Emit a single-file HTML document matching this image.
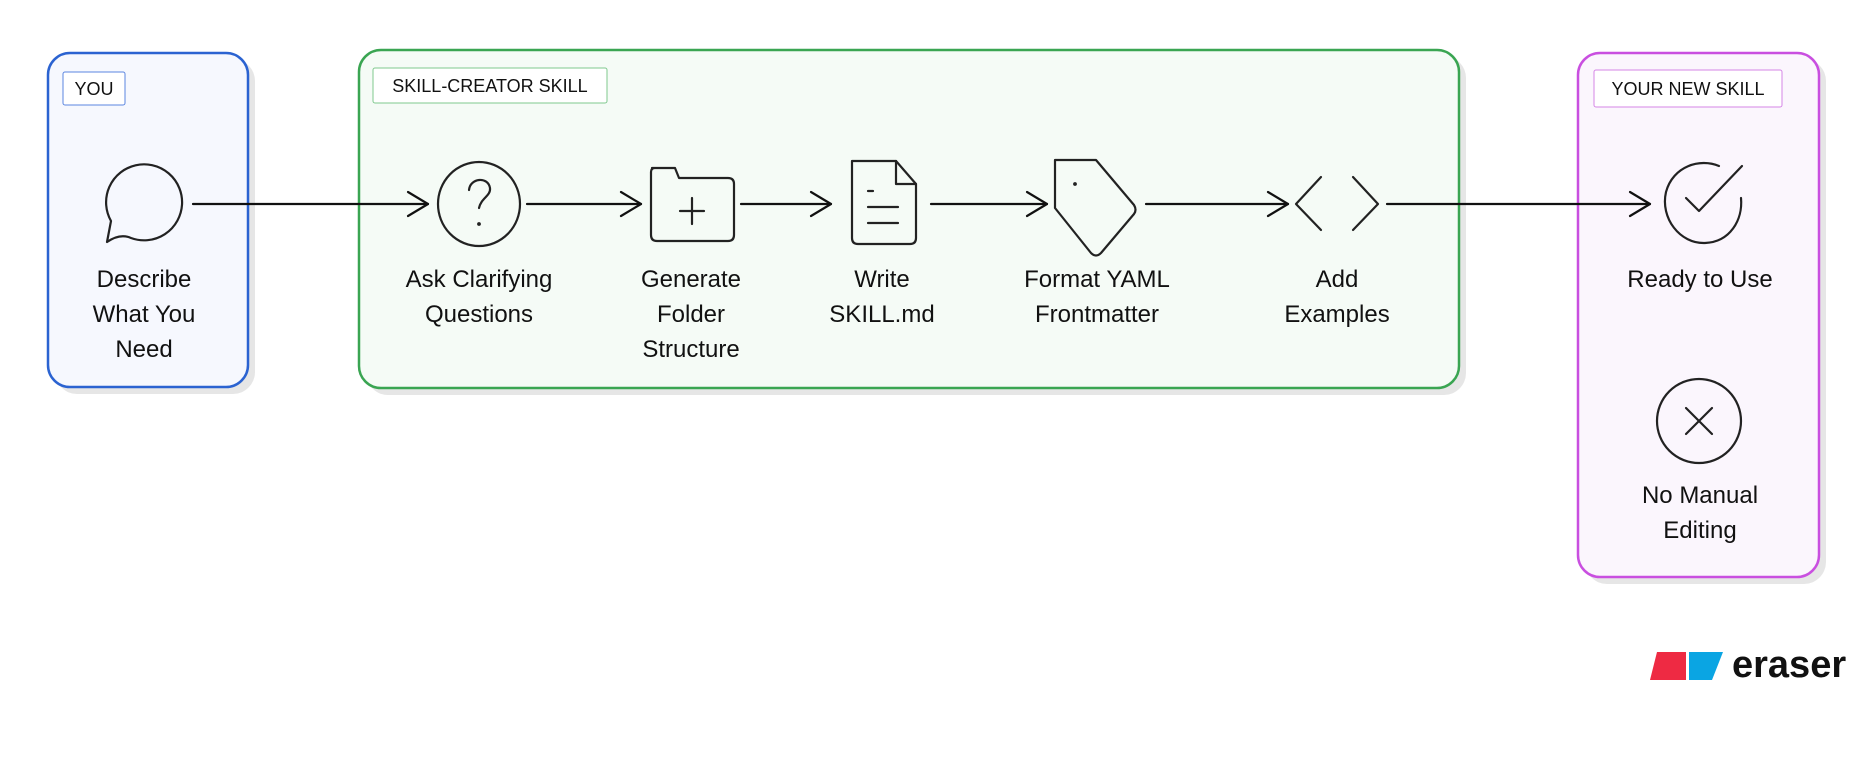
<!DOCTYPE html>
<html><head><meta charset="utf-8"><style>
html,body{margin:0;padding:0;background:#fff;width:1871px;height:768px;overflow:hidden}
svg{display:block}
text{font-family:"Liberation Sans",sans-serif;fill:#111}
</style></head><body>
<svg width="1871" height="768" viewBox="0 0 1871 768" xmlns="http://www.w3.org/2000/svg">
<!-- shadows -->
<rect x="55" y="59" width="200" height="335" rx="22" fill="#e6e6e6"/>
<rect x="366" y="56" width="1100" height="339" rx="22" fill="#e6e6e6"/>
<rect x="1585" y="59" width="241" height="525" rx="22" fill="#e6e6e6"/>
<!-- boxes -->
<rect x="48" y="53" width="200" height="334" rx="22" fill="#f6f8fe" stroke="#2b63d1" stroke-width="2.5"/>
<rect x="359" y="50" width="1100" height="338" rx="22" fill="#f5fbf6" stroke="#3aa552" stroke-width="2.5"/>
<rect x="1578" y="53" width="241" height="524" rx="22" fill="#fbf6fd" stroke="#c94fe0" stroke-width="2.5"/>
<!-- labels -->
<rect x="63" y="72" width="62" height="33" rx="2" fill="#fff" stroke="#5b86e0" stroke-width="1"/>
<text x="94" y="95" font-size="18" text-anchor="middle" fill="#333">YOU</text>
<rect x="373" y="68" width="234" height="35" rx="2" fill="#fff" stroke="#7fc88e" stroke-width="1"/>
<text x="490" y="92" font-size="18" text-anchor="middle" fill="#333">SKILL-CREATOR SKILL</text>
<rect x="1594" y="70" width="188" height="37" rx="2" fill="#fff" stroke="#d585e6" stroke-width="1"/>
<text x="1688" y="95" font-size="18" text-anchor="middle" fill="#333">YOUR NEW SKILL</text>
<!-- connectors -->
<g stroke="#111" stroke-width="2.2" fill="none" stroke-linecap="round" stroke-linejoin="round">
<line x1="193" y1="204" x2="428" y2="204"/><polyline points="408,192 428,204 408,216"/>
<line x1="527" y1="204" x2="641" y2="204"/><polyline points="621,192 641,204 621,216"/>
<line x1="741" y1="204" x2="831" y2="204"/><polyline points="811,192 831,204 811,216"/>
<line x1="931" y1="204" x2="1047" y2="204"/><polyline points="1027,192 1047,204 1027,216"/>
<line x1="1146" y1="204" x2="1288" y2="204"/><polyline points="1268,192 1288,204 1268,216"/>
<line x1="1387" y1="204" x2="1650" y2="204"/><polyline points="1630,192 1650,204 1630,216"/>
</g>
<!-- icons -->
<g stroke="#222" stroke-width="2.2" fill="none" stroke-linecap="round" stroke-linejoin="round">
<!-- speech bubble -->
<path d="M111,221 A38,38 0 1,1 131,238 Q120,233 107,242 Z"/>
<!-- question -->
<ellipse cx="479" cy="204" rx="41" ry="42"/>
<path d="M469,190 C470,178 488,176 490,188 C491,196 481,198 479,208"/>
<circle cx="479" cy="224" r="0.8" fill="#222"/>
<!-- folder -->
<path d="M652,168 L675,168 L679,178 L728,178 Q734,178 734,184 L734,235 Q734,241 728,241 L657,241 Q651,241 651,235 L651,172 Q651,168 655,168 Z"/>
<line x1="692" y1="198" x2="692" y2="224"/><line x1="680" y1="211" x2="704" y2="211"/>
<!-- doc -->
<path d="M852,161 L896,161 L916,184 L916,238 Q916,244 910,244 L858,244 Q852,244 852,238 Z"/>
<path d="M896,161 L896,184 L916,184"/>
<line x1="868" y1="191" x2="873" y2="191"/><line x1="868" y1="207" x2="898" y2="207"/><line x1="868" y1="223" x2="898" y2="223"/>
<!-- tag -->
<path d="M1055,160 L1096,160 L1134,205 Q1137,210 1134,214 L1101,253 Q1096,258 1091,253 L1055,208 Z"/>
<circle cx="1075" cy="184" r="0.8" fill="#222"/>
<!-- code -->
<polyline points="1321,177 1296,204 1321,230"/>
<polyline points="1353,177 1378,204 1353,230"/>
<!-- check -->
<path d="M1719,166 C1700,158 1673,166 1666,192 C1660,218 1680,244 1705,243 C1730,242 1743,220 1741,198"/>
<polyline points="1686,198 1699,211 1742,166"/>
<!-- X -->
<circle cx="1699" cy="421" r="42"/>
<line x1="1686" y1="408" x2="1712" y2="434"/><line x1="1712" y1="408" x2="1686" y2="434"/>
</g>
<!-- node texts -->
<g font-size="24" text-anchor="middle">
<text x="144" y="287">Describe</text><text x="144" y="322">What You</text><text x="144" y="357">Need</text>
<text x="479" y="287">Ask Clarifying</text><text x="479" y="322">Questions</text>
<text x="691" y="287">Generate</text><text x="691" y="322">Folder</text><text x="691" y="357">Structure</text>
<text x="882" y="287">Write</text><text x="882" y="322">SKILL.md</text>
<text x="1097" y="287">Format YAML</text><text x="1097" y="322">Frontmatter</text>
<text x="1337" y="287">Add</text><text x="1337" y="322">Examples</text>
<text x="1700" y="287">Ready to Use</text>
<text x="1700" y="503">No Manual</text><text x="1700" y="538">Editing</text>
</g>
<!-- eraser logo -->
<polygon points="1657,652 1686,652 1686,680 1650,680" fill="#ee2a43"/>
<polygon points="1689,652 1723,652 1712,680 1689,680" fill="#0aa5e3"/>
<text x="1732" y="677" font-size="38" font-weight="bold" fill="#111">eraser</text>
</svg>
</body></html>
